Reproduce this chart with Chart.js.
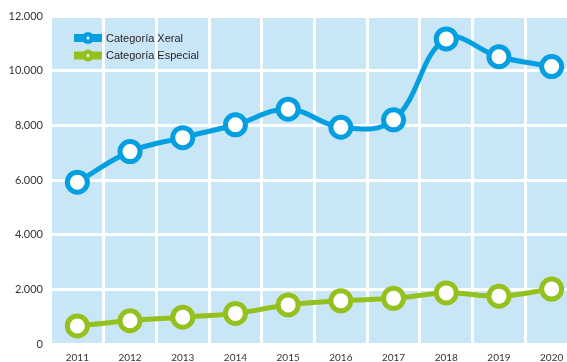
<!DOCTYPE html>
<html>
<head>
<meta charset="utf-8">
<title>Categoría Xeral / Especial</title>
<script src="https://cdn.jsdelivr.net/npm/chart.js@4/dist/chart.umd.min.js"></script>
<style>
  html, body { margin: 0; padding: 0; background: #fff; overflow: hidden; }
  #wrap { position: relative; width: 567px; height: 362px; }
</style>
</head>
<body>
<div id="wrap"><canvas id="grafico"></canvas></div>
<script>
// datos
const anos = ['2011', '2012', '2013', '2014', '2015', '2016', '2017', '2018', '2019', '2020'];
const xeral = [5920, 7040, 7550, 8020, 8590, 7930, 8200, 11160, 10510, 10150];
const especial = [660, 850, 980, 1120, 1430, 1580, 1670, 1870, 1750, 2010];
const series = ['Categoría Xeral', 'Categoría Especial'];
const yTicks = [0, 2000, 4000, 6000, 8000, 10000, 12000];

const azul = '#049fe0';
const verde = '#95c11f';
const fondo = '#c9e6f7';

// 12000 -> "12.000"
function miles(v) {
  return String(v).replace(/\B(?=(\d{3})+(?!\d))/g, '.');
}

// a última columna sae polo bordo dereito do canvas
const areaAncha = {
  id: 'areaAncha',
  afterLayout(chart) {
    const a = chart.chartArea;
    const x = chart.scales.x;
    a.right = 578;
    a.width = a.right - a.left;
    x.right = a.right;
    x.width = x.right - x.left;
    x.configure();
  }
};

// fondo azul claro da área do gráfico
const fondoArea = {
  id: 'fondoArea',
  beforeDraw(chart) {
    const { ctx, chartArea: a } = chart;
    ctx.save();
    ctx.fillStyle = fondo;
    ctx.fillRect(a.left, a.top, a.right - a.left, a.bottom - a.top);
    ctx.restore();
  }
};

// lenda dentro da área, arriba á esquerda
const lenda = {
  id: 'lenda',
  afterDraw(chart) {
    const ctx = chart.ctx;
    const cores = [azul, verde];
    ctx.save();
    series.forEach((nome, i) => {
      const y = 38 + i * 17.5;
      ctx.fillStyle = cores[i];
      ctx.fillRect(74, y - 4, 28, 8);
      ctx.beginPath();
      ctx.arc(88, y, 6, 0, Math.PI * 2);
      ctx.fill();
      ctx.fillStyle = '#fff';
      ctx.beginPath();
      ctx.arc(88, y, 1.5, 0, Math.PI * 2);
      ctx.fill();
      ctx.fillStyle = '#231f20';
      ctx.font = '11px "Liberation Sans", Arial, sans-serif';
      ctx.textBaseline = 'middle';
      ctx.fillText(nome, 106, y + 0.5);
    });
    ctx.restore();
  }
};

const ctx = document.getElementById('grafico').getContext('2d');
new Chart(ctx, {
  type: 'line',
  data: {
    labels: anos,
    datasets: [
      {
        label: series[0],
        data: xeral,
        borderColor: azul,
        backgroundColor: '#fff',
        borderWidth: 5,
        pointRadius: 10,
        pointBorderWidth: 5,
        pointBackgroundColor: '#fff',
        pointBorderColor: azul,
        tension: 0.4
      },
      {
        label: series[1],
        data: especial,
        borderColor: verde,
        backgroundColor: '#fff',
        borderWidth: 5,
        pointRadius: 10,
        pointBorderWidth: 5,
        pointBackgroundColor: '#fff',
        pointBorderColor: verde,
        tension: 0.4
      }
    ]
  },
  options: {
    responsive: true,
    maintainAspectRatio: false,
    animation: false,
    layout: { padding: { top: 16, right: 0, left: 0, bottom: 0 } },
    plugins: {
      legend: { display: false },
      tooltip: { enabled: false }
    },
    scales: {
      x: {
        offset: true,
        grid: { offset: true, color: '#fff', lineWidth: 3, drawTicks: false },
        border: { display: false },
        ticks: {
          padding: 8,
          color: '#333',
          font: { family: 'Lato, "Open Sans", sans-serif', size: 10 },
          maxRotation: 0
        },
        afterFit: s => { s.height = 18; }
      },
      y: {
        min: 0,
        max: 12000,
        afterBuildTicks: s => { s.ticks = yTicks.map(v => ({ value: v })); },
        grid: { color: '#fff', lineWidth: 3, drawTicks: false },
        border: { display: false },
        ticks: {
          padding: 8,
          color: '#333',
          font: { family: 'Lato, "Open Sans", sans-serif', size: 11 },
          callback: v => miles(v)
        },
        afterFit: s => { s.width = 51; }
      }
    }
  },
  plugins: [areaAncha, fondoArea, lenda]
});
</script>
</body>
</html>
